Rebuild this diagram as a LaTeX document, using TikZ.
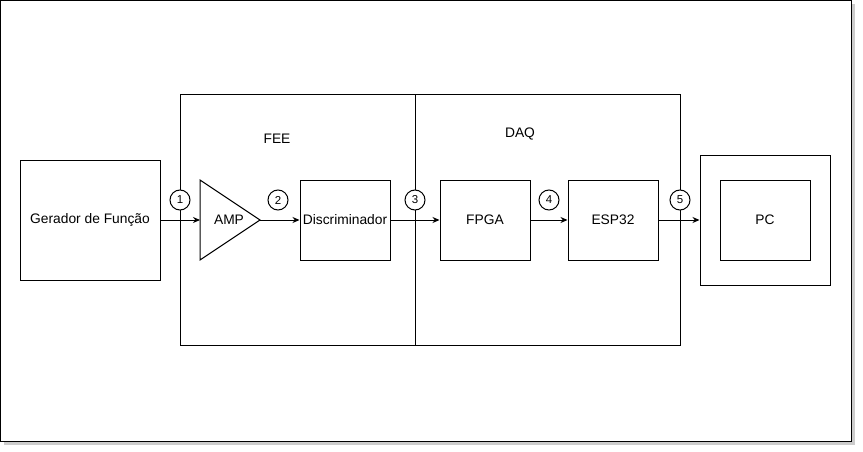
\documentclass[tikz,border=0pt]{standalone}
\usepackage{fontspec}
\setmainfont{Liberation Sans}
\usetikzlibrary{arrows.meta}
\begin{document}
\begin{tikzpicture}[x=1pt, y=-1pt, line width=1pt, font=\fontsize{13.8}{16}\selectfont, blockStyle/.style={rectangle, draw, minimum width=90pt, minimum height=80pt, inner sep=0pt}, markStyle/.style={circle, draw, fill=white, minimum size=20pt, inner sep=0pt, font=\fontsize{11.5}{13}\selectfont}, linkStyle/.style={-{Stealth[length=7pt, width=6pt]}}]
                    \useasboundingbox (0,0) rectangle (863,452);
                    % frame with shadow
                    \fill[black!20] (4,4) rectangle (855,445);
                    \draw[fill=white] (0.5,0.5) rectangle (851,441);
                    % FEE / DAQ area
                    \draw (180,95) rectangle (680,345);
                    \draw (415,95) -- (415,345);
                    \node (fee_label) at (277,139) {FEE};
                    \node (daq_label) at (520,134) {DAQ};
                    % blocks
                    \node[blockStyle, minimum width=140pt, minimum height=120pt] (gerador) at (90,220) {Gerador de Função};
                    \draw (200,180) -- (260,220) -- (200,260) -- cycle;
                    \node (amp) at (229,220) {AMP};
                    \coordinate (amp_in)  at (200,220);
                    \coordinate (amp_out) at (260,220);
                    \node[blockStyle] (disc)  at (345,220) {Discriminador};
                    \node[blockStyle] (fpga)  at (485,220) {FPGA};
                    \node[blockStyle] (esp32) at (613,220) {ESP32};
                    \node[blockStyle, minimum width=130pt, minimum height=130pt] (pc_outer) at (765,220) {};
                    \node[blockStyle] (pc) at (765,220) {PC};
                    % connectors
                    \draw[linkStyle] (gerador.east) -- (amp_in);
                    \draw[linkStyle] (amp_out) -- (disc.west);
                    \draw[linkStyle] (disc.east) -- (fpga.west);
                    \draw[linkStyle] (fpga.east) -- (esp32.west);
                    \draw[linkStyle] (esp32.east) -- (pc_outer.west);
                    % test points
                    \node[markStyle] (tp_1) at (180,200) {1};
                    \node[markStyle] (tp_2) at (278,200) {2};
                    \node[markStyle] (tp_3) at (415,200) {3};
                    \node[markStyle] (tp_4) at (549,200) {4};
                    \node[markStyle] (tp_5) at (680,200) {5};
                \end{tikzpicture}
\end{document}
